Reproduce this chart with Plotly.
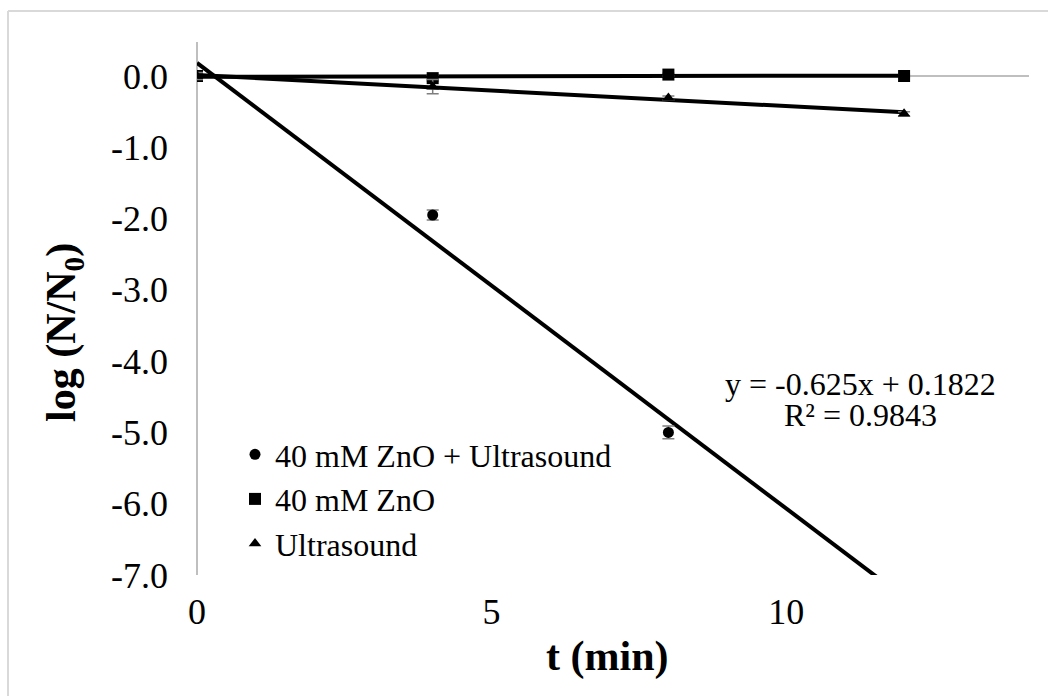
import numpy as np
import plotly.graph_objects as go

# ---- data ----
t_us_zno = [0, 4, 8]
y_us_zno = [0.0, -1.95, -5.0]
e_us_zno = [0.03, 0.07, 0.09]

t_zno = [0, 4, 8, 12]
y_zno = [0.0, -0.03, 0.02, 0.0]
e_zno = [0.03, 0.04, 0.02, 0.02]

t_us = [0, 4, 8, 12]
y_us = [0.0, -0.15, -0.31, -0.53]
e_us = [0.05, 0.10, 0.03, 0.03]

trend_x = [0, 12]
eq_text = "y = -0.625x + 0.1822"
r2_text = "R² = 0.9843"

x_ticks = [0, 5, 10]
y_ticks = [-7, -6, -5, -4, -3, -2, -1, 0]

# ---- layout geometry (px) ----
W, H = 1048, 696
L, R, T, B = 197, 1029, 42, 575
pw, ph = R - L, B - T

def px_x(p):
    return (p - L) / pw

def px_y(p):
    return (B - p) / ph

FONT = "Liberation Serif"
ERR = "#7f7f7f"

fig = go.Figure()

series = [
    ("40 mM ZnO + Ultrasound", t_us_zno, y_us_zno, e_us_zno, "circle", 11),
    ("40 mM ZnO", t_zno, y_zno, e_zno, "square", 12),
    ("Ultrasound", t_us, y_us, e_us, "triangle-up", 11),
]

# trend lines (least-squares fits of each series)
for name, xs, ys, es, sym, sz in series:
    m, c = np.polyfit(xs, ys, 1)
    fig.add_trace(go.Scatter(
        x=trend_x, y=[m * v + c for v in trend_x], mode="lines",
        line=dict(color="black", width=4), showlegend=False, hoverinfo="skip"))

for name, xs, ys, es, sym, sz in series:
    fig.add_trace(go.Scatter(
        x=xs, y=ys, mode="markers", name=name,
        marker=dict(symbol=sym, size=sz, color="black"),
        error_y=dict(type="data", array=es, visible=True, color=ERR,
                     thickness=1.5, width=6)))

fig.add_annotation(x=11.26, y=-4.32, xref="x", yref="y", text=eq_text,
                   xanchor="center", yanchor="middle",
                   showarrow=False, font=dict(family=FONT, size=32, color="black"))
fig.add_annotation(x=11.26, y=-4.76, xref="x", yref="y", text=r2_text,
                   xanchor="center", yanchor="middle",
                   showarrow=False, font=dict(family=FONT, size=32, color="black"))

# y-axis title
fig.add_annotation(x=px_x(64), y=px_y(333), xref="paper", yref="paper",
                   xanchor="center", yanchor="middle",
                   text="<b>log (N/N<sub>0</sub>)</b>", textangle=-90,
                   showarrow=False, font=dict(family=FONT, size=42, color="black"))
# x-axis title
fig.add_annotation(x=px_x(607), y=px_y(656), xref="paper", yref="paper",
                   xanchor="center", yanchor="middle",
                   text="<b>t (min)</b>", showarrow=False,
                   font=dict(family=FONT, size=42, color="black"))

# outer chart border (left and top visible)
bc = "#d9d9d9"
fig.add_shape(type="line", xref="paper", yref="paper",
              x0=px_x(8), x1=px_x(8), y0=px_y(11), y1=px_y(720),
              line=dict(color=bc, width=2))
fig.add_shape(type="line", xref="paper", yref="paper",
              x0=px_x(8), x1=px_x(1070), y0=px_y(11), y1=px_y(11),
              line=dict(color=bc, width=2))

fig.update_layout(
    width=W, height=H,
    margin=dict(l=L, r=W - R, t=T, b=H - B),
    paper_bgcolor="white", plot_bgcolor="white",
    font=dict(family=FONT, color="black"),
    showlegend=True,
    legend=dict(x=px_x(235), y=px_y(427), xanchor="left", yanchor="top",
                bgcolor="rgba(0,0,0,0)", font=dict(family=FONT, size=32, color="black"),
                itemwidth=30),
    xaxis=dict(range=[0, 14.12], tickvals=x_ticks, ticktext=[str(v) for v in x_ticks],
               showgrid=False, showline=False, zeroline=True,
               zerolinecolor="#bfbfbf", zerolinewidth=2,
               tickfont=dict(family=FONT, size=36, color="black"), ticks="",
               ticklabelstandoff=12),
    yaxis=dict(range=[-7, 0.477], tickvals=y_ticks,
               ticktext=[f"{v:.1f}" for v in y_ticks],
               showgrid=False, showline=False, zeroline=True,
               zerolinecolor="#bfbfbf", zerolinewidth=2,
               tickfont=dict(family=FONT, size=36, color="black"), ticks="",
               ticklabelstandoff=28),
)

fig.write_html("out.html")
